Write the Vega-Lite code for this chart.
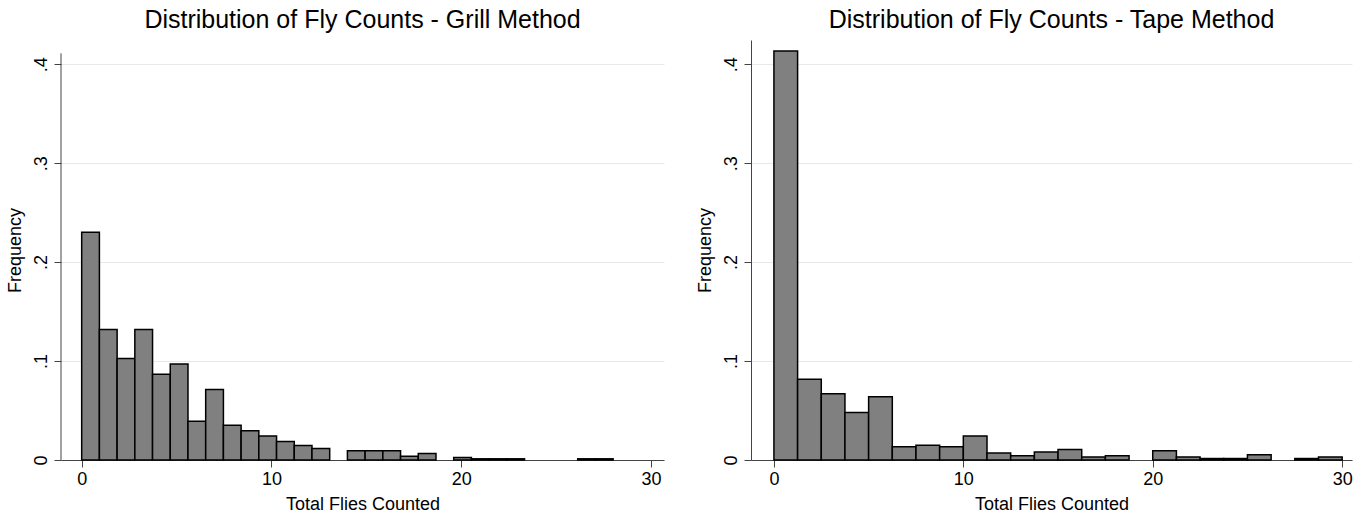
{
  "$schema": "https://vega.github.io/schema/vega-lite/v6.json",
  "background": "white",
  "padding": {"left": 6, "top": 8, "right": 5, "bottom": 0},
  "spacing": 32,
  "datasets": {
    "grill": [
      {"start": 0, "end": 0.933, "freq": 0.2303},
      {"start": 0.933, "end": 1.867, "freq": 0.132},
      {"start": 1.867, "end": 2.8, "freq": 0.1026},
      {"start": 2.8, "end": 3.733, "freq": 0.132},
      {"start": 3.733, "end": 4.667, "freq": 0.0866},
      {"start": 4.667, "end": 5.6, "freq": 0.097},
      {"start": 5.6, "end": 6.533, "freq": 0.0391},
      {"start": 6.533, "end": 7.467, "freq": 0.0712},
      {"start": 7.467, "end": 8.4, "freq": 0.035},
      {"start": 8.4, "end": 9.333, "freq": 0.0295},
      {"start": 9.333, "end": 10.267, "freq": 0.0243},
      {"start": 10.267, "end": 11.2, "freq": 0.0187},
      {"start": 11.2, "end": 12.133, "freq": 0.0147},
      {"start": 12.133, "end": 13.067, "freq": 0.0115},
      {"start": 14.0, "end": 14.933, "freq": 0.0093},
      {"start": 14.933, "end": 15.867, "freq": 0.0093},
      {"start": 15.867, "end": 16.8, "freq": 0.0093},
      {"start": 16.8, "end": 17.733, "freq": 0.0038},
      {"start": 17.733, "end": 18.667, "freq": 0.0065},
      {"start": 19.6, "end": 20.533, "freq": 0.0025},
      {"start": 20.533, "end": 21.467, "freq": 0.0012},
      {"start": 21.467, "end": 22.4, "freq": 0.0012},
      {"start": 22.4, "end": 23.333, "freq": 0.0012},
      {"start": 26.133, "end": 27.067, "freq": 0.0012},
      {"start": 27.067, "end": 28.0, "freq": 0.0012}
    ],
    "tape": [
      {"start": 0, "end": 1.25, "freq": 0.4133},
      {"start": 1.25, "end": 2.5, "freq": 0.0816},
      {"start": 2.5, "end": 3.75, "freq": 0.0669},
      {"start": 3.75, "end": 5.0, "freq": 0.0481},
      {"start": 5.0, "end": 6.25, "freq": 0.064},
      {"start": 6.25, "end": 7.5, "freq": 0.0133},
      {"start": 7.5, "end": 8.75, "freq": 0.0148},
      {"start": 8.75, "end": 10.0, "freq": 0.0133},
      {"start": 10.0, "end": 11.25, "freq": 0.0243},
      {"start": 11.25, "end": 12.5, "freq": 0.007},
      {"start": 12.5, "end": 13.75, "freq": 0.0042},
      {"start": 13.75, "end": 15.0, "freq": 0.008},
      {"start": 15.0, "end": 16.25, "freq": 0.0107},
      {"start": 16.25, "end": 17.5, "freq": 0.0031},
      {"start": 17.5, "end": 18.75, "freq": 0.0042},
      {"start": 20.0, "end": 21.25, "freq": 0.0093},
      {"start": 21.25, "end": 22.5, "freq": 0.0031},
      {"start": 22.5, "end": 23.75, "freq": 0.0015},
      {"start": 23.75, "end": 25.0, "freq": 0.0015},
      {"start": 25.0, "end": 26.25, "freq": 0.0052},
      {"start": 27.5, "end": 28.75, "freq": 0.0015},
      {"start": 28.75, "end": 30.0, "freq": 0.0031}
    ]
  },
  "hconcat": [
    {
      "title": {"text": "Distribution of Fly Counts - Grill Method", "offset": 7},
      "width": 603,
      "height": 420,
      "layer": [
        {
          "data": {"name": "grill"},
          "mark": {"type": "bar", "fill": "#808080", "stroke": "#000000", "strokeWidth": 1.5},
          "encoding": {
            "x": {
              "field": "start", "type": "quantitative", "title": "Total Flies Counted",
              "scale": {"domain": [-1.09, 30.68], "nice": false, "zero": false},
              "axis": {"values": [0, 10, 20, 30], "grid": false}
            },
            "x2": {"field": "end"},
            "y": {
              "field": "freq", "type": "quantitative", "title": "Frequency",
              "scale": {"domain": [0, 0.4245], "nice": false},
              "axis": {"values": [0, 0.1, 0.2, 0.3, 0.4], "domain": false}
            },
            "y2": {"datum": 0}
          }
        },
        {
          "data": {"values": [{}]},
          "mark": {"type": "rule", "color": "#444444", "strokeWidth": 1},
          "encoding": {
            "x": {"datum": -1.09, "type": "quantitative"},
            "y": {"datum": 0, "type": "quantitative"},
            "y2": {"datum": 0.411}
          }
        }
      ]
    },
    {
      "title": {"text": "Distribution of Fly Counts - Tape Method", "offset": 7},
      "width": 601,
      "height": 420,
      "data": {"name": "tape"},
      "mark": {"type": "bar", "fill": "#808080", "stroke": "#000000", "strokeWidth": 1.5},
      "encoding": {
        "x": {
          "field": "start", "type": "quantitative", "title": "Total Flies Counted",
          "scale": {"domain": [-1.21, 30.52], "nice": false, "zero": false},
          "axis": {"values": [0, 10, 20, 30], "grid": false}
        },
        "x2": {"field": "end"},
        "y": {
          "field": "freq", "type": "quantitative", "title": "Frequency",
          "scale": {"domain": [0, 0.4245], "nice": false},
          "axis": {"values": [0, 0.1, 0.2, 0.3, 0.4]}
        },
        "y2": {"datum": 0}
      }
    }
  ],
  "config": {
    "view": {"stroke": null},
    "font": "Liberation Sans",
    "title": {"font": "Liberation Sans", "fontSize": 25, "fontWeight": "normal", "color": "#000000", "anchor": "middle", "frame": "group"},
    "axis": {
      "labelFont": "Liberation Sans", "labelFontSize": 18, "labelColor": "#000000",
      "titleFont": "Liberation Sans", "titleFontSize": 18, "titleFontWeight": "normal", "titleColor": "#000000",
      "domainColor": "#444444", "tickColor": "#444444", "tickSize": 7, "domainWidth": 1, "tickWidth": 1,
      "gridColor": "#e8e8e8", "gridWidth": 1
    },
    "axisX": {"labelPadding": 3, "titlePadding": 7, "labelFlush": false},
    "axisY": {
      "labelAngle": -90, "labelAlign": "center", "labelBaseline": "alphabetic", "labelPadding": 8,
      "titlePadding": 8, "grid": true,
      "labelExpr": "datum.value == 0 ? '0' : replace(format(datum.value, '.1f'), '0.', '.')"
    }
  }
}
